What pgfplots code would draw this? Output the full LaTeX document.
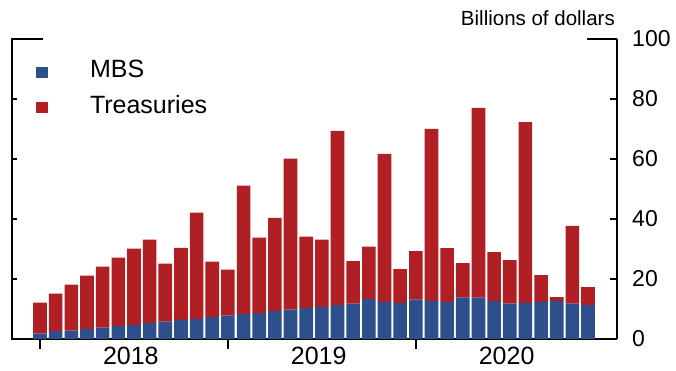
\documentclass[border=0pt]{standalone}
\usepackage{pgfplots}
\usepackage{pgfplotstable}
\pgfplotsset{compat=1.18}
\usepackage{fontspec}
\setmainfont{Liberation Sans}
\definecolor{mbsblue}{RGB}{45,79,140}
\definecolor{tsyred}{RGB}{175,31,36}

\pgfplotstableread{
x mbs tsy
0 1.8 10.3
1 2.6 12.5
2 2.8 15.3
3 3.4 17.7
4 3.8 20.3
5 4.4 22.7
6 4.7 25.4
7 5.3 27.8
8 5.8 19.3
9 6.4 24.0
10 6.7 35.4
11 7.3 18.5
12 7.8 15.3
13 8.4 42.7
14 8.7 25.1
15 9.3 31.1
16 9.8 50.3
17 10.4 23.7
18 10.7 22.4
19 11.3 58.1
20 11.8 14.2
21 13.3 17.5
22 12.4 49.3
23 12.0 11.3
24 13.1 16.2
25 12.7 57.3
26 12.4 17.9
27 13.8 11.5
28 13.8 63.2
29 12.7 16.3
30 11.8 14.5
31 12.0 60.3
32 12.4 8.9
33 12.7 1.3
34 11.8 25.9
35 11.3 6.0
}\data

\begin{document}
\begin{tikzpicture}[x=1pt,y=1pt]
\useasboundingbox (0,0) rectangle (676,370);
\begin{axis}[
  at={(12pt,31pt)}, anchor=south west,
  scale only axis, width=605pt, height=300pt,
  xmin=-1.79, xmax=36.85, ymin=0, ymax=100,
  ybar stacked, bar width=0.87,
  axis x line*=bottom, axis y line*=right,
  axis line style={line width=2.4pt, black},
  xtick={5.8,17.8,29.8}, xticklabels={2018,2019,2020},
  x tick style={draw=none},
  xticklabel style={font=\fontsize{25}{30}\selectfont, inner sep=0pt, anchor=north, yshift=-8pt},
  ytick={0,20,...,100},
  y tick style={line width=2.4pt, black},
  tick align=inside, major tick length=7pt,
  yticklabel style={font=\fontsize{23}{28}\selectfont, inner sep=0pt, anchor=west, xshift=15pt},
  /pgf/number format/assume math mode=true,
  legend style={at={(rel axis cs:0,1)}, anchor=north west, xshift=24pt, yshift=-21pt,
    draw=none, fill=none, inner sep=0pt, outer sep=0pt, row sep=16pt,
    font=\fontsize{25}{30}\selectfont, nodes={inner sep=0pt}},
  legend cell align=left,
  clip=false,
]
\addplot[fill=mbsblue, draw=none,
  legend image code/.code={\fill[mbsblue, draw=none] (0pt,-8.5pt) rectangle (12pt,2.5pt); \path[draw=none, fill=none] (0pt,0pt) rectangle (54pt,0.1pt);}]
  table[x=x,y=mbs]{\data};
\addlegendentry{MBS}
\addplot[fill=tsyred, draw=none,
  legend image code/.code={\fill[tsyred, draw=none] (0pt,-8.5pt) rectangle (12pt,2.5pt); \path[draw=none, fill=none] (0pt,0pt) rectangle (54pt,0.1pt);}]
  table[x=x,y=tsy]{\data};
\addlegendentry{Treasuries}
% frame pieces
\draw[line width=2.4pt, line cap=rect] (rel axis cs:0,0) -- (rel axis cs:0,1) -- ([xshift=30pt]rel axis cs:0,1);
\draw[line width=2.4pt] (rel axis cs:1,1) -- ([xshift=-30pt]rel axis cs:1,1);
\pgfplotsinvokeforeach{20,40,60,80}{
  \draw[line width=2.4pt] ({rel axis cs:0,0}|-{axis cs:0,#1}) -- ++(5pt,0pt);
}
\pgfplotsinvokeforeach{0,12,24}{
  \draw[line width=2.4pt] (axis cs:#1,0) -- ++(0pt,-10pt);
}
\node[anchor=base east, inner sep=0pt, font=\fontsize{20.5}{24}\selectfont]
  at ([xshift=-2pt,yshift=13pt]rel axis cs:1,1) {Billions of dollars};
\end{axis}
\end{tikzpicture}
\end{document}
